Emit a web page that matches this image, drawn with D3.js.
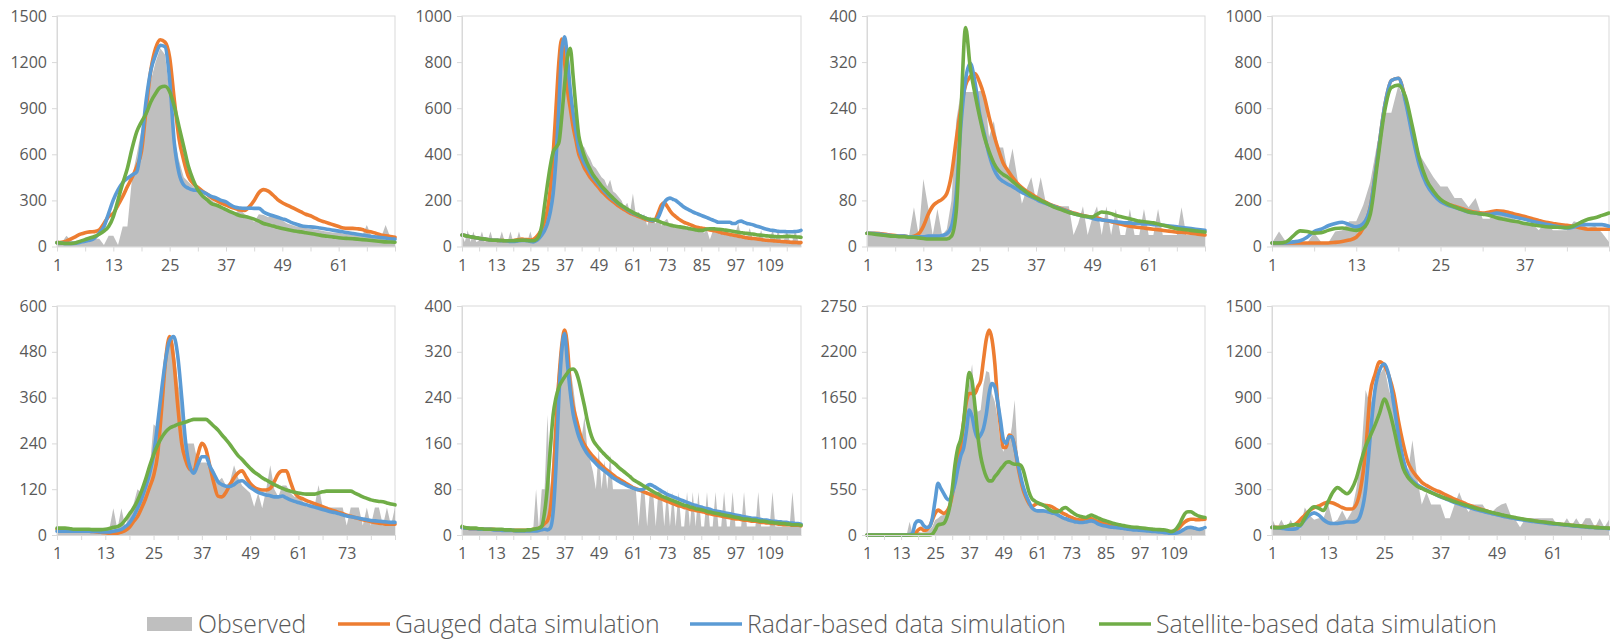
<!DOCTYPE html>
<html>
<head>
<meta charset="utf-8">
<script src="https://cdn.jsdelivr.net/npm/d3@7"></script>
<style>
  body { margin: 0; background: #fff; }
  svg text { font-family: "Open Sans", "DejaVu Sans", sans-serif; fill: #595959; }
</style>
</head>
<body>
<svg id="chart" width="1610" height="639"></svg>
<script>
// ---- data ----
const seriesNames = ['Observed', 'Gauged data simulation', 'Radar-based data simulation', 'Satellite-based data simulation'];

// panel 1
const p1Obs = [20,25,70,40,25,20,25,30,50,50, 10,70,70,10,130,130,450,600,760,900,
  1080,1200,1290,1250,1000,700,560,450,420,390, 360,340,320,300,280,260,250,230,220,240,
  210,190,160,210,205,190,210,180,170,150, 140,130,130,120,115,110,105,100,95,90,
  90,85,80,80,75,70,140,65,60,55, 140,60,30];
const p1Gauged = [25,28,35,50,65,80,90,95,97,108, 150,195,215,270,325,390,450,520,620,900,
  1150,1290,1345,1330,1230,950,700,560,455,410, 385,360,340,315,298,282,270,257,247,237,
  235,260,300,350,370,360,335,305,285,270, 255,240,225,210,200,185,170,160,150,140,
  130,120,118,118,115,110,100,95,85,75, 70,65,60];
const p1Radar = [25,22,20,20,22,28,35,40,55,87, 130,216,303,368,416,444,465,487,671,953,
  1147,1245,1310,1300,1083,671,476,400,379,368, 365,355,340,325,315,300,290,270,255,250,
  248,250,248,248,225,210,200,190,180,170, 155,145,135,130,128,125,120,115,110,105,
  100,95,90,85,80,75,70,65,62,58, 55,50,48];
const p1Sat = [25,22,20,20,25,35,45,55,65,80, 100,130,195,303,411,509,639,747,812,866,
  942,996,1035,1043,1007,909,779,650,520,433, 368,329,303,277,268,255,240,225,212,200,
  195,188,178,165,150,142,133,125,117,110, 104,99,95,90,85,80,74,69,65,61,
  57,54,52,50,48,45,42,39,36,33, 30,29,28];

// panel 2
const p2Obs = [50,20,70,20,65,20,25,65,20,25, 65,20,20,25,65,20,20,65,20,20,
  65,20,20,25,65,20,30,70,60,100, 150,250,350,450,600,780,880,780,650,560,
  500,460,440,430,400,380,350,340,320,300, 290,260,290,240,230,215,200,170,190,150,
  230,140,150,130,140,90,130,110,100,130, 90,110,120,90,100,90,90,80,90,80,
  85,70,80,75,70,60,70,30,65,60, 60,55,55,50,50,45,60,100,40,50,
  40,80,35,40,30,70,30,30,30,70, 30,70,25,25,70,25,25,70,25,20];
const p2Gauged = [50,48,45,42,40,38,35,33,32,30, 28,27,27,26,26,25,25,25,26,28,
  30,32,30,30,28,30,40,55,75,110, 160,250,400,600,800,900,800,680,600,520,
  460,400,370,340,320,300,285,270,255,240, 228,215,205,195,185,175,167,160,152,145,
  140,135,130,125,120,115,112,110,120,150, 180,190,175,155,140,130,120,112,105,100,
  95,90,85,82,80,78,75,72,70,67, 64,60,58,55,52,50,48,45,43,40,
  38,36,35,34,32,30,28,27,26,25, 24,23,22,21,20,19,18,18,17,17];
const p2Radar = [50,48,45,42,40,38,35,33,32,30, 28,27,27,26,25,25,24,22,22,23,
  25,26,26,25,22,20,25,35,50,70, 100,150,230,380,600,850,910,820,680,580,
  500,430,390,360,340,320,300,285,270,255, 240,228,215,205,195,185,177,168,160,152,
  145,140,135,130,125,120,115,112,115,130, 160,190,205,210,205,200,190,180,170,163,
  157,150,145,140,135,130,125,120,115,110, 105,105,105,105,105,100,100,108,110,105,
  100,98,95,90,87,83,78,75,72,70, 68,66,65,65,64,64,64,65,66,70];
const p2Sat = [50,48,45,42,40,38,36,34,32,30, 28,27,27,26,26,25,25,25,25,26,
  27,27,27,26,25,25,30,45,90,180, 270,350,410,430,450,560,700,820,860,740,
  600,480,430,390,360,335,312,295,278,262, 248,235,222,210,198,187,178,170,162,155,
  148,142,136,130,125,121,118,117,115,110, 105,100,97,93,90,88,86,84,82,80,
  77,75,72,70,70,72,76,77,77,76, 75,74,72,70,68,66,64,62,60,58,
  57,55,54,52,50,49,48,46,45,44, 43,42,42,43,44,44,43,42,41,40];

// panel 3
const p3Obs = [20,20,20,20,20,20,20,20,20,20, 68,20,117,70,20,65,20,30,80,218,
  268,268,268,268,270,270,190,218,172,172, 130,170,120,74,100,120,80,120,80,75,
  72,70,70,70,20,40,70,20,50,70, 20,70,20,65,20,20,65,20,20,65,
  20,20,65,20,20,20,20,68,20,20, 20,20,20];
const p3Gauged = [23,23,23,22,21,20,19,18,18,17, 18,22,35,55,70,77,82,92,125,185,
  240,280,295,300,285,260,225,195,168,145, 132,120,110,102,96,91,86,81,77,73,
  70,67,64,61,58,56,54,52,51,50, 47,45,43,41,39,37,35,34,33,32,
  31,30,29,28,27,26,25,25,24,23, 22,21,20];
const p3Radar = [23,23,22,21,20,19,18,18,18,17, 17,17,17,18,18,18,19,22,35,90,
  210,290,318,285,230,195,160,135,120,113, 108,104,99,94,90,86,82,78,75,72,
  69,66,63,60,57,55,53,51,49,47, 46,45,44,43,42,41,41,40,40,39,
  39,38,38,37,36,35,34,33,32,31, 30,29,28];
const p3Sat = [23,22,21,20,19,18,18,17,17,16, 16,15,14,13,13,13,13,13,18,60,
  230,380,310,265,225,190,165,145,132,125, 120,113,106,100,94,88,84,80,76,72,
  68,65,62,59,57,55,53,52,51,56, 60,59,57,54,52,50,48,46,44,43,
  42,41,39,37,35,33,31,30,29,28, 27,26,25];

// panel 4
const p4Obs = [15,65,20,15,15,15,60,20,15,65, 70,110,110,180,280,450,580,580,700,620,
  520,400,350,300,260,260,210,210,170,210, 120,120,150,140,130,110,100,100,70,110,
  70,70,70,110,100,80,90,60,20];
const p4Gauged = [15,15,15,15,15,15,15,15,15,18, 22,28,40,80,170,380,600,720,730,640,
  500,370,280,230,200,185,175,165,155,148, 145,150,155,153,145,138,130,122,113,105,
  100,95,92,88,80,75,75,75,75];
const p4Radar = [15,15,15,20,25,40,65,75,90,100, 105,95,85,100,170,380,600,720,730,630,
  480,350,270,225,195,180,170,160,150,145, 140,140,145,140,132,125,118,110,103,97,
  90,85,80,85,95,95,95,95,88];
const p4Sat = [15,15,20,45,68,65,58,60,70,78, 80,75,70,80,140,360,580,690,700,650,
  520,380,290,240,205,185,172,160,150,145, 140,135,125,118,112,107,100,95,90,86,
  84,83,82,90,105,118,125,135,145];

// panel 5
const p5Obs = [10,10,10,10,10,10,10,10,10,10, 10,10,12,15,70,15,70,20,60,80,
  120,110,130,170,290,280,300,450,520,500, 400,350,240,240,240,190,190,190,185,170,
  140,150,130,140,183,150,130,120,110,74, 110,70,120,183,120,100,130,130,110,100,
  100,90,74,75,75,131,75,72,72,72, 72,72,25,72,72,72,25,72,25,72,
  72,25,72,25,72];
const p5Gauged = [15,15,14,12,10,10,10,10,10,9, 8,7,6,5,5,5,8,12,20,35,
  48,70,95,125,155,210,330,460,520,460, 340,240,195,172,168,210,240,225,180,135,
  102,100,112,132,150,163,168,152,135,125, 120,118,118,122,140,160,168,168,140,112,
  100,95,90,86,82,78,74,70,66,63, 59,56,52,49,46,43,40,38,35,33,
  31,30,28,28,28];
const p5Radar = [10,10,10,10,10,10,10,10,10,9, 9,8,8,8,10,12,15,22,32,48,
  70,95,125,160,210,290,380,460,510,520, 470,360,240,180,162,185,205,205,180,160,
  140,132,128,127,132,140,142,135,125,118, 112,108,105,103,100,100,102,97,92,88,
  85,82,79,76,73,70,67,64,61,59, 56,53,50,48,46,44,42,40,38,37,
  36,35,34,33,33];
const p5Sat = [18,18,18,17,15,15,15,15,15,14, 14,14,15,17,20,22,28,40,55,70,
  90,115,145,180,210,235,255,270,280,285, 290,293,296,300,303,303,303,303,295,285,
  275,262,250,237,222,208,198,186,175,165, 158,150,144,138,132,127,122,118,115,112,
  110,108,107,107,107,110,113,115,115,115, 115,115,115,115,110,105,100,96,92,90,
  88,87,84,81,79];

// panel 6
const p6Obs = [12,10,10,10,10,10,8,8,8,8, 8,8,8,8,8,8,8,8,8,8,
  8,8,8,8,8,10,80,10,80,80, 210,80,150,250,300,330,345,330,290,260,
  220,180,170,207,150,130,110,80,150,80, 130,80,140,80,80,80,80,80,80,80,
  80,80,15,80,80,15,80,80,15,80, 80,15,80,15,75,15,75,15,15,75,
  15,75,15,75,15,15,75,15,15,75, 15,15,75,15,15,75,15,15,15,75,
  15,15,15,15,75,15,15,15,15,75, 15,15,15,15,15,15,75,15,15,15];
const p6Gauged = [13,12,12,11,11,11,10,10,10,10, 10,10,9,9,9,9,9,9,8,8,
  8,8,8,8,8,10,10,12,15,20, 25,45,100,190,270,330,358,330,260,225,
  205,185,168,158,150,143,137,132,127,122, 117,113,109,105,101,98,95,92,89,86,
  83,81,79,77,75,73,71,69,67,65, 63,61,59,57,55,53,51,50,48,47,
  45,44,43,42,41,40,38,37,36,35, 34,33,32,31,30,29,28,28,27,26,
  26,25,24,24,23,22,22,21,21,20, 20,19,19,18,18,18,17,17,17,16];
const p6Radar = [13,12,12,11,11,11,10,10,10,10, 10,9,9,9,8,8,8,8,8,7,
  7,7,7,7,7,7,7,8,9,10, 9,12,40,120,240,320,352,300,250,212,
  190,172,160,150,142,136,130,125,120,116, 112,108,104,100,97,94,91,89,86,84,
  82,80,79,79,81,86,88,86,83,80, 77,74,71,69,67,65,63,61,59,57,
  55,53,52,50,49,47,46,45,43,42, 41,40,39,38,37,36,35,34,33,32,
  31,30,29,29,28,27,26,26,25,24, 24,23,23,22,22,21,21,20,20,19];
const p6Sat = [15,13,12,12,12,12,11,11,10,10, 10,10,10,10,10,9,9,9,8,8,
  8,8,8,9,9,10,11,12,15,40, 85,150,210,240,258,268,276,283,289,290,
  285,270,248,225,200,180,166,158,152,146, 141,136,131,127,123,118,114,110,106,102,
  97,94,91,88,85,82,79,76,73,71, 68,66,64,62,60,58,56,54,52,51,
  49,48,46,45,44,43,41,40,39,38, 37,36,35,34,33,32,31,30,29,28,
  28,27,26,26,25,24,24,23,22,22, 21,21,20,20,19,19,18,18,18,17];

// panel 7
const p7Obs = [5,5,5,5,5,5,5,5,5,5, 5,5,5,5,10,160,20,30,40,30,
  30,40,60,100,180,200,230,240,260,300, 520,600,800,1000,1250,1550,1800,2050,1600,1480,
  1500,1800,1970,1950,1700,1600,1400,1100,1000,1100, 1100,1300,1620,1000,700,550,450,350,330,320,
  310,300,300,290,280,270,250,240,220,200, 190,180,170,160,150,150,150,160,170,160,
  150,130,120,110,100,95,90,85,80,75, 70,65,60,55,50,48,45,42,40,38,
  35,33,30,28,26,24,22,20,20,20, 30,50,70,80,80,70,60,60,60,60];
const p7Gauged = [0,0,0,0,0,0,0,0,0,0, 0,0,0,0,0,0,5,20,60,80,
  55,60,100,180,260,300,280,260,280,340, 480,680,880,1060,1350,1600,1700,1700,1700,1780,
  1850,2100,2350,2460,2350,2060,1600,1300,1050,1050, 1200,1180,1060,850,680,540,450,380,340,360,
  380,370,360,355,350,340,320,300,280,260, 245,225,210,195,185,180,185,195,200,195,
  180,165,155,145,135,128,120,113,107,100, 95,90,85,80,76,72,68,64,60,57,
  55,52,50,48,46,44,42,40,45,60, 90,130,160,180,190,190,185,185,188,190];
const p7Radar = [0,0,0,0,0,0,0,0,0,0, 0,0,0,0,0,5,20,140,170,160,
  110,90,100,200,420,620,560,500,440,420, 500,620,800,950,1040,1250,1500,1420,1250,1160,
  1200,1280,1450,1700,1820,1780,1600,1380,1150,1100, 1180,1180,1050,880,720,580,480,400,330,300,
  290,290,290,285,275,265,260,245,225,205, 195,180,170,160,155,150,150,155,165,170,
  160,140,125,115,108,100,95,92,88,84, 80,75,70,66,62,60,57,54,51,48,
  45,42,40,36,32,28,24,20,20,25, 35,55,75,90,92,85,75,68,75,90];
const p7Sat = [0,0,0,0,0,0,0,0,0,0, 0,0,0,0,0,0,0,0,0,0,
  0,0,0,10,60,120,130,140,200,320, 550,850,1050,1150,1350,1700,1950,1850,1550,1200,
  950,800,700,650,650,700,740,790,830,870, 880,860,850,850,840,780,650,520,440,410,
  390,375,360,340,310,290,280,280,290,320, 330,305,280,255,235,225,215,210,225,240,
  225,210,195,180,170,160,148,138,130,122, 115,108,102,97,94,92,88,84,80,76,
  72,68,66,64,62,60,50,40,50,80, 130,200,260,280,280,260,240,225,215,210];

// panel 8
const p8Obs = [110,40,100,40,100,40,40,180,130,100, 110,110,200,80,100,160,100,150,300,500,
  950,850,950,1050,1100,950,850,650,480,400, 620,380,200,280,200,200,200,110,110,200,
  280,200,150,200,200,200,150,150,180,200, 210,130,100,50,100,110,110,110,110,110,
  110,60,60,110,60,110,60,110,110,50, 110,50,100];
const p8Gauged = [50,50,48,52,60,70,98,130,160,180, 190,205,215,210,195,180,170,170,200,316,
  550,928,1050,1135,1110,1040,930,750,600,480, 420,380,345,325,308,293,280,265,250,235,
  222,210,197,186,175,165,155,146,138,130, 122,116,110,105,100,96,92,87,83,79,
  75,72,69,66,63,60,58,55,52,50, 48,46,44];
const p8Radar = [50,48,45,40,38,40,60,100,130,145, 130,100,80,75,75,80,85,85,90,140,
  300,650,950,1080,1120,1040,860,660,500,400, 355,330,310,295,280,265,250,238,225,213,
  202,192,182,172,163,155,148,140,133,126, 119,113,107,102,97,92,88,84,80,76,
  73,70,67,64,61,58,55,53,50,48, 46,44,42];
const p8Sat = [50,48,50,55,65,68,65,110,160,185, 175,160,220,280,310,290,270,300,370,480,
  580,650,720,800,890,820,700,560,440,380, 345,320,305,290,278,265,253,241,230,219,
  209,199,189,180,171,163,155,147,140,133, 126,120,114,108,103,98,93,89,85,81,
  77,74,70,67,64,61,58,55,52,50, 48,46,45];

// y-axis tick labels per panel
const yTicks1 = [0, 300, 600, 900, 1200, 1500];
const yTicks2 = [0, 200, 400, 600, 800, 1000];
const yTicks3 = [0, 80, 160, 240, 320, 400];
const yTicks4 = [0, 200, 400, 600, 800, 1000];
const yTicks5 = [0, 120, 240, 360, 480, 600];
const yTicks6 = [0, 80, 160, 240, 320, 400];
const yTicks7 = [0, 550, 1100, 1650, 2200, 2750];
const yTicks8 = [0, 300, 600, 900, 1200, 1500];

// ---- drawing ----
const colors = ['#bfbfbf', '#ed7d31', '#5b9bd5', '#70ad47'];
const gridColor = '#d9d9d9';

const panels = [
  [p1Obs, p1Gauged, p1Radar, p1Sat, yTicks1],
  [p2Obs, p2Gauged, p2Radar, p2Sat, yTicks2],
  [p3Obs, p3Gauged, p3Radar, p3Sat, yTicks3],
  [p4Obs, p4Gauged, p4Radar, p4Sat, yTicks4],
  [p5Obs, p5Gauged, p5Radar, p5Sat, yTicks5],
  [p6Obs, p6Gauged, p6Radar, p6Sat, yTicks6],
  [p7Obs, p7Gauged, p7Radar, p7Sat, yTicks7],
  [p8Obs, p8Gauged, p8Radar, p8Sat, yTicks8]
];

const colX = [[57, 395], [462, 801], [867, 1205], [1272, 1609]];
const rowY = [[16, 246.5], [306, 535]];

const svg = d3.select('#chart');

panels.forEach((p, k) => {
  const [obs, gauged, radar, sat, ticks] = p;
  const [x0, x1] = colX[k % 4];
  const [y0, y1] = rowY[Math.floor(k / 4)];
  const n = obs.length;

  const x = d3.scaleLinear().domain([1, n]).range([x0, x1]);
  const y = d3.scaleLinear().domain([0, d3.max(ticks)]).range([y1, y0]);

  const g = svg.append('g');

  // plot area border
  g.append('rect')
    .attr('x', x0).attr('y', y0)
    .attr('width', x1 - x0).attr('height', y1 - y0)
    .attr('fill', 'none')
    .attr('stroke', gridColor)
    .attr('stroke-width', 1);

  const area = d3.area()
    .x((d, i) => x(i + 1))
    .y0(y(0))
    .y1(d => y(d));

  g.append('path')
    .datum(obs)
    .attr('d', area)
    .attr('fill', colors[0]);

  const line = d3.line()
    .x((d, i) => x(i + 1))
    .y(d => y(d))
    .curve(d3.curveMonotoneX);

  [gauged, radar, sat].forEach((s, j) => {
    g.append('path')
      .datum(s)
      .attr('d', line)
      .attr('fill', 'none')
      .attr('stroke', colors[j + 1])
      .attr('stroke-width', 3.6)
      .attr('stroke-linejoin', 'round')
      .attr('stroke-linecap', 'round');
  });

  // y axis
  const yAxis = d3.axisLeft(y)
    .tickValues(ticks)
    .tickFormat(d3.format('d'))
    .tickSize(5).tickSizeOuter(0).tickPadding(5);
  const ya = g.append('g').attr('transform', `translate(${x0},0)`).call(yAxis);

  // x axis: tick marks every 6, labels every 12 (none at the right edge)
  const xAxis = d3.axisBottom(x)
    .tickValues(d3.range(1, n + 1, 6))
    .tickSize(5).tickSizeOuter(0).tickPadding(8)
    .tickFormat(d => ((d - 1) % 12 === 0 && d < n) ? d : '');
  const xa = g.append('g').attr('transform', `translate(0,${y1})`).call(xAxis);

  [ya, xa].forEach(a => {
    a.select('.domain').attr('stroke', gridColor);
    a.selectAll('.tick line').attr('stroke', gridColor);
    a.selectAll('.tick text')
      .attr('font-size', 16)
      .attr('font-family', '"Open Sans", "DejaVu Sans", sans-serif')
      .attr('fill', '#595959');
  });
});

// ---- legend ----
const legend = svg.append('g').attr('transform', 'translate(0,624)');
const legendX = [147, 338, 690, 1099];

seriesNames.forEach((name, i) => {
  const lx = legendX[i];
  if (i === 0) {
    legend.append('rect')
      .attr('x', lx).attr('y', -7)
      .attr('width', 45).attr('height', 14)
      .attr('fill', colors[0]);
  } else {
    legend.append('line')
      .attr('x1', lx).attr('x2', lx + 52)
      .attr('y1', 0).attr('y2', 0)
      .attr('stroke', colors[i])
      .attr('stroke-width', 3.5);
  }
  legend.append('text')
    .attr('x', lx + (i === 0 ? 51 : 57))
    .attr('y', 0)
    .attr('dy', '0.35em')
    .attr('font-size', 24.8)
    .attr('font-weight', 300)
    .text(name);
});
</script>
</body>
</html>
